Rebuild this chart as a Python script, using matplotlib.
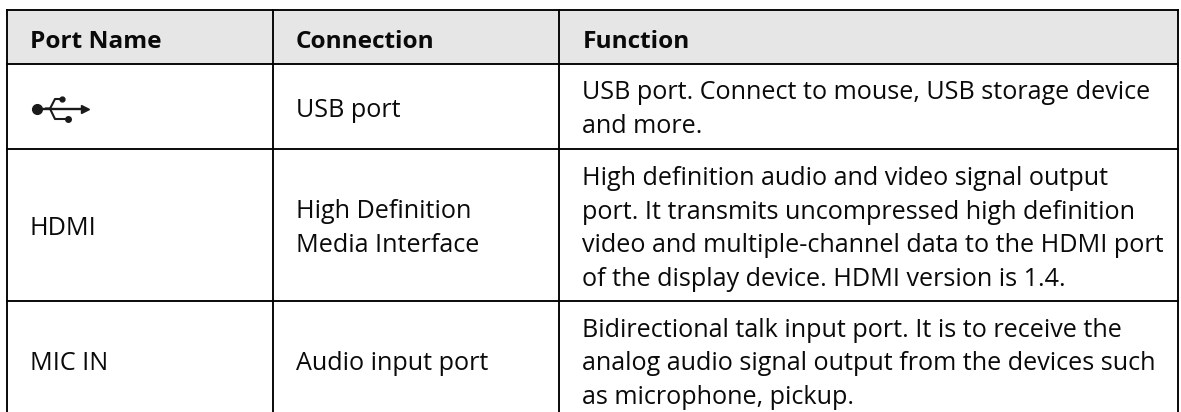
import matplotlib
matplotlib.use("Agg")
import matplotlib.pyplot as plt
from matplotlib.patches import Rectangle

W, H = 1181, 412
headers = ["Port Name", "Connection", "Function"]
port_names = ["HDMI", "MIC IN"]
port_base = [235, 370]
connections = ["USB port", "High Definition", "Media Interface", "Audio input port"]
conn_base = [116.7, 217.7, 251.7, 370]
functions = [
    "USB port. Connect to mouse, USB storage device",
    "and more.",
    "High definition audio and video signal output",
    "port. It transmits uncompressed high definition",
    "video and multiple-channel data to the HDMI port",
    "of the display device. HDMI version is 1.4.",
    "Bidirectional talk input port. It is to receive the",
    "analog audio signal output from the devices such",
    "as microphone, pickup.",
]
func_base = [98.5, 133, 185, 218.5, 252, 286, 336.7, 370, 403.5]
col_edges = [7, 273, 559, 1178]
row_edges = [10, 64, 149, 301]
text_x = [30, 296, 582.5]

plt.rcParams["font.family"] = "Open Sans"
fig = plt.figure(figsize=(W / 100, H / 100), dpi=100)
ax = fig.add_axes([0, 0, 1, 1])
ax.set_xlim(0, W)
ax.set_ylim(H, 0)
ax.axis("off")

ax.add_patch(Rectangle((col_edges[0], row_edges[0]), col_edges[-1] - col_edges[0],
                       row_edges[1] - row_edges[0], fc="#e6e6e6", ec="none", zorder=1))
LW = 1.35
for y in row_edges:
    ax.plot([col_edges[0], col_edges[-1]], [y, y], color="black", lw=LW, zorder=3, solid_capstyle="projecting")
for x in col_edges:
    ax.plot([x, x], [row_edges[0], H + 2], color="black", lw=LW, zorder=3, solid_capstyle="projecting")

FS = 18.1
HFS = 17.6
INK = "#0a0a0a"
for x, t in zip(text_x, headers):
    ax.text(x, 47.7, t, fontsize=HFS, fontweight="bold", va="baseline", ha="left", color=INK)
for t, y in zip(port_names, port_base):
    ax.text(text_x[0], y, t, fontsize=FS, va="baseline", ha="left", color=INK)
for t, y in zip(connections, conn_base):
    ax.text(text_x[1], y, t, fontsize=FS, va="baseline", ha="left", color=INK)
for t, y in zip(functions, func_base):
    ax.text(text_x[2], y, t, fontsize=FS, va="baseline", ha="left", color=INK)

# USB symbol
k = "#1a1a1a"
ax.plot([36, 84], [108.7, 108.7], color=k, lw=1.7)
ax.plot([37], [108.7], "o", color=k, ms=7)
ax.plot([85], [108.7], ">", color=k, ms=5.5)
ax.plot([46, 50, 55, 60], [108.7, 108.7, 99, 99], color=k, lw=1.5)
ax.plot([46, 50, 55, 66], [108.7, 108.7, 119, 119], color=k, lw=1.5)
ax.plot([62], [99], "o", color=k, ms=3.5)
ax.plot([68], [119], "o", color=k, ms=4)

fig.savefig("out.png", dpi=100, facecolor="white")
